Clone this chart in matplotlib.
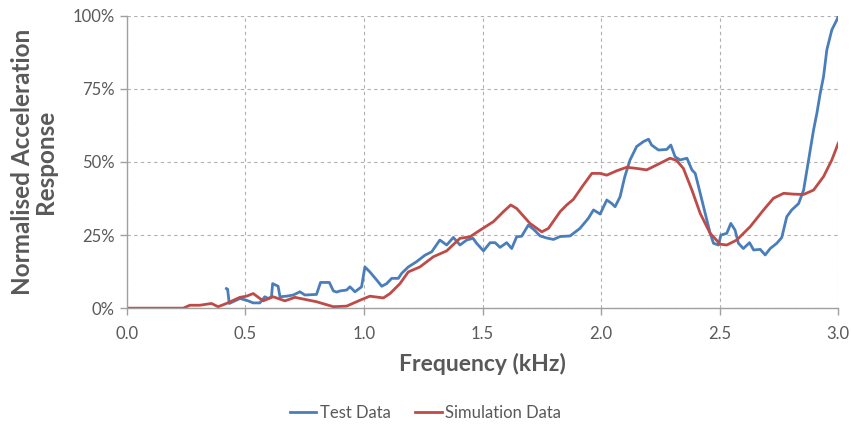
import matplotlib
matplotlib.use("Agg")
import matplotlib.pyplot as plt
from matplotlib.ticker import FuncFormatter

# Test data (kHz, % normalised response)
test_freq = [0.42, 0.425, 0.432, 0.477, 0.505, 0.533, 0.561, 0.582, 0.596, 0.61, 0.615,
             0.638, 0.646, 0.674, 0.702, 0.73, 0.751, 0.80, 0.817, 0.854, 0.871, 0.885,
             0.899, 0.927, 0.941, 0.962, 0.99, 1.004, 1.025, 1.054, 1.075, 1.096, 1.117,
             1.145, 1.159, 1.187, 1.222, 1.257, 1.286, 1.32, 1.349, 1.377, 1.405, 1.433,
             1.46, 1.475, 1.504, 1.532, 1.553, 1.574, 1.602, 1.623, 1.644, 1.665, 1.693,
             1.715, 1.743, 1.771, 1.799, 1.827, 1.869, 1.911, 1.946, 1.968, 1.996, 2.024,
             2.045, 2.059, 2.08, 2.10, 2.122, 2.15, 2.179, 2.2, 2.213, 2.242, 2.277, 2.294,
             2.312, 2.333, 2.362, 2.383, 2.397, 2.418, 2.439, 2.46, 2.474, 2.495, 2.505,
             2.53, 2.547, 2.565, 2.579, 2.60, 2.626, 2.643, 2.671, 2.692, 2.713, 2.741,
             2.762, 2.783, 2.804, 2.833, 2.854, 2.875, 2.896, 2.91, 2.924, 2.938, 2.952,
             2.973, 2.994, 3.0]
test_resp = [6.7, 6.5, 1.6, 3.3, 2.7, 1.8, 1.8, 3.9, 3.3, 3.9, 8.4,
             7.5, 3.9, 4.1, 4.5, 5.6, 4.5, 4.7, 8.8, 8.8, 5.9, 5.5,
             5.9, 6.2, 7.3, 5.6, 7.3, 14.1, 12.4, 9.6, 7.5, 8.4, 10.2,
             10.2, 11.9, 14.1, 15.9, 18.1, 19.3, 23.3, 21.6, 24.2, 21.6, 23.3,
             23.9, 22.2, 19.6, 22.4, 22.4, 20.8, 22.4, 20.4, 24.4, 24.6, 28.4,
             27.0, 24.7, 24.0, 23.5, 24.5, 24.7, 27.3, 30.7, 33.6, 32.2, 37.0,
             35.8, 34.7, 38.1, 45.0, 50.7, 55.3, 57.0, 57.8, 55.8, 54.1, 54.3, 55.8,
             51.8, 50.7, 51.3, 47.3, 46.1, 39.3, 32.4, 25.6, 22.2, 21.6, 25.0,
             25.6, 29.0, 26.7, 22.2, 20.4, 22.4, 19.9, 20.1, 18.2, 20.4, 22.2,
             24.2, 31.3, 33.6, 35.8, 40.4, 50.7, 61.0, 66.7, 73.5, 79.2, 88.4,
             95.2, 98.6, 99.8]

# Simulation data
sim_freq = [0.0, 0.238, 0.266, 0.308, 0.357, 0.385, 0.42, 0.477, 0.505, 0.533, 0.575,
            0.617, 0.667, 0.709, 0.80, 0.871, 0.927, 0.983, 1.025, 1.082, 1.11, 1.152,
            1.187, 1.236, 1.293, 1.349, 1.405, 1.447, 1.49, 1.546, 1.588, 1.619, 1.644,
            1.70, 1.75, 1.778, 1.827, 1.855, 1.883, 1.925, 1.961, 1.996, 2.024, 2.066,
            2.108, 2.15, 2.192, 2.235, 2.291, 2.319, 2.347, 2.383, 2.418, 2.46, 2.502,
            2.53, 2.572, 2.629, 2.685, 2.727, 2.77, 2.812, 2.854, 2.896, 2.938, 2.973, 3.0]
sim_resp = [0.0, 0.0, 1.0, 1.0, 1.6, 0.5, 1.6, 3.7, 4.1, 5.0, 2.5,
            3.9, 2.5, 3.7, 2.2, 0.5, 0.7, 2.7, 4.1, 3.5, 5.0, 8.4,
            12.4, 14.1, 17.6, 19.6, 23.9, 24.4, 26.7, 29.6, 33.0, 35.3, 34.1,
            29.0, 26.1, 27.3, 33.0, 35.3, 37.2, 42.1, 46.1, 46.1, 45.5, 47.0,
            48.2, 47.8, 47.3, 49.0, 51.3, 50.5, 47.8, 40.4, 32.4, 25.6, 21.9,
            21.6, 23.3, 27.9, 33.6, 37.6, 39.3, 39.0, 38.9, 40.4, 45.0, 50.7, 56.4]

x_ticks = [0.0, 0.5, 1.0, 1.5, 2.0, 2.5, 3.0]
y_ticks = [0, 25, 50, 75, 100]

plt.rcParams["font.family"] = ["Lato", "DejaVu Sans"]
grey = "#595959"
blue, red = "#4A7EBB", "#BE4B48"

fig = plt.figure(figsize=(8.51, 4.28), dpi=100)
ax = fig.add_axes([0.149, 0.280, 0.836, 0.683])

ax.plot(test_freq, test_resp, color=blue, linewidth=2.0, label="Test Data")
ax.plot(sim_freq, sim_resp, color=red, linewidth=2.0, label="Simulation Data")

ax.set_xlim(0, 3.0)
ax.set_ylim(0, 100)
ax.set_xticks(x_ticks)
ax.set_yticks(y_ticks)
ax.xaxis.set_major_formatter(FuncFormatter(lambda v, p: f"{v:.1f}"))
ax.yaxis.set_major_formatter(FuncFormatter(lambda v, p: f"{v:.0f}%"))
ax.grid(True, color="#b0b0b0", linestyle=(0, (3, 3)), linewidth=0.8)
ax.set_axisbelow(True)

for s in ["top", "right"]:
    ax.spines[s].set_visible(False)
for s in ["left", "bottom"]:
    ax.spines[s].set_color("#a0a0a0")
    ax.spines[s].set_linewidth(1.0)
ax.tick_params(colors="#a0a0a0", labelcolor=grey, labelsize=12, length=5, width=1)
ax.tick_params(axis="x", pad=8)

ax.set_xlabel("Frequency (kHz)", fontsize=16.5, fontweight="bold", color=grey, labelpad=8)
ax.set_ylabel("Normalised Acceleration\nResponse", fontsize=17.5, fontweight="bold",
              color=grey, labelpad=11, linespacing=1.05)

fig.legend(loc="center", bbox_to_anchor=(0.5, 0.035), ncol=2, frameon=False,
           fontsize=12, handlelength=1.6, handletextpad=0.2, columnspacing=1.5,
           labelcolor=grey)

fig.savefig("out.png", dpi=100)
